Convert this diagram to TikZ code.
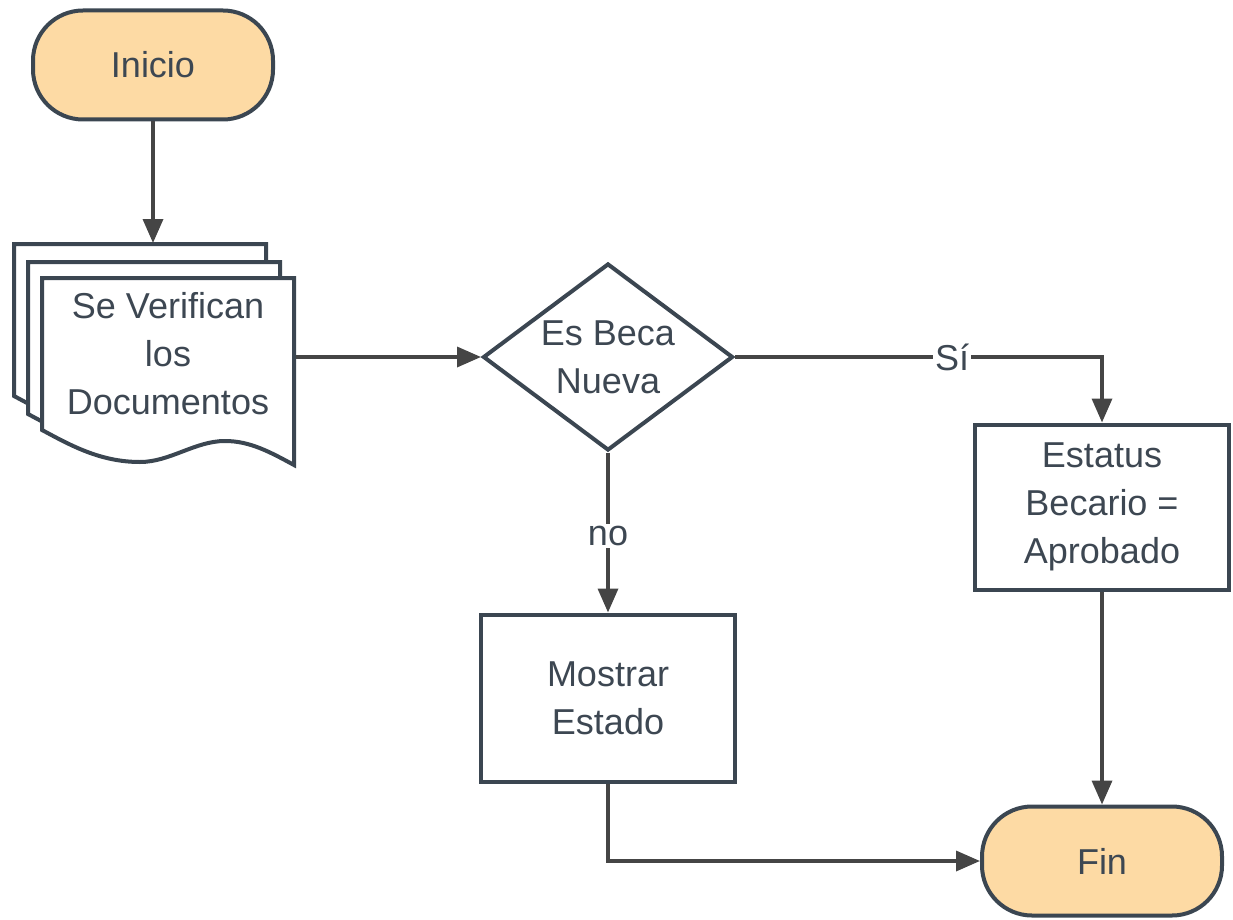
\documentclass[tikz,border=0pt]{standalone}
\usepackage{fontspec}
\setmainfont{Liberation Sans}
\usepackage{tikz}
\usetikzlibrary{arrows.meta,shapes.geometric}

\definecolor{edge}{HTML}{3B4651}
\definecolor{wire}{HTML}{454545}
\definecolor{txt}{HTML}{3D4752}
\definecolor{peach}{HTML}{FDDAA4}

\tikzset{
  base/.style={draw=edge, line width=4pt, text=txt, align=center,
    font=\fontsize{36pt}{48pt}\selectfont},
  terminal/.style={base, fill=peach, rounded corners=50pt,
    minimum width=240pt, minimum height=109pt},
  procbox/.style={base, fill=white, minimum width=254pt, minimum height=165pt},
  decision/.style={base, diamond, fill=white, aspect=1.337,
    minimum width=250pt, minimum height=187pt, inner sep=0pt},
  sheet/.style={draw=edge, line width=4pt, fill=white, line join=miter},
  wirearrow/.style={draw=wire, line width=3.5pt,
    -{Triangle[length=24pt,width=20pt]}},
  answer/.style={fill=white, text=txt, inner sep=2pt,
    font=\fontsize{36pt}{48pt}\selectfont},
}

% one sheet of the document stack
\newcommand{\docsheet}[2]{%
  \draw[sheet, shift={(#1,#2)}] (42,278) -- (294,278) -- (294,465)
    .. controls (270,452) and (250,441) .. (225,441)
    .. controls (195,441) and (170,462) .. (140,462)
    .. controls (100,462) and (70,445) .. (42,430) -- cycle;}

\begin{document}
\begin{tikzpicture}[x=1pt, y=-1pt]
    \useasboundingbox (0,0) rectangle (1233,920);

    \node[terminal] (start) at (153,65) {Inicio};

    % stacked documents
    \docsheet{-28}{-34}
    \docsheet{-14}{-16}
    \docsheet{0}{0}
    \coordinate (stacktop) at (153,243);
    \node[base, draw=none, minimum width=252pt, minimum height=152pt]
        (docs) at (168,354) {Se Verifican\\los\\Documentos};

    \node[decision] (new) at (608,357) {Es Beca\\Nueva};
    \node[procbox] (status) at (1102,507) {Estatus\\Becario =\\Aprobado};
    \node[procbox, minimum height=167pt] (show) at (608,698) {Mostrar\\Estado};
    \node[terminal] (stop) at (1102,861) {Fin};

    \draw[wirearrow] (start) -- (stacktop);
    \draw[wirearrow] (docs.east |- new.west) -- (new.west);
    \draw[wirearrow] (new.east) -| node[answer, pos=0.5, xshift=-150pt] {Sí} (status.north);
    \draw[wirearrow] (new.south) -- node[answer, pos=0.52] {no} (show.north);
    \draw[wirearrow] (status.south) -- (stop.north);
    \draw[wirearrow] (show.south) |- (stop.west);
\end{tikzpicture}
\end{document}
